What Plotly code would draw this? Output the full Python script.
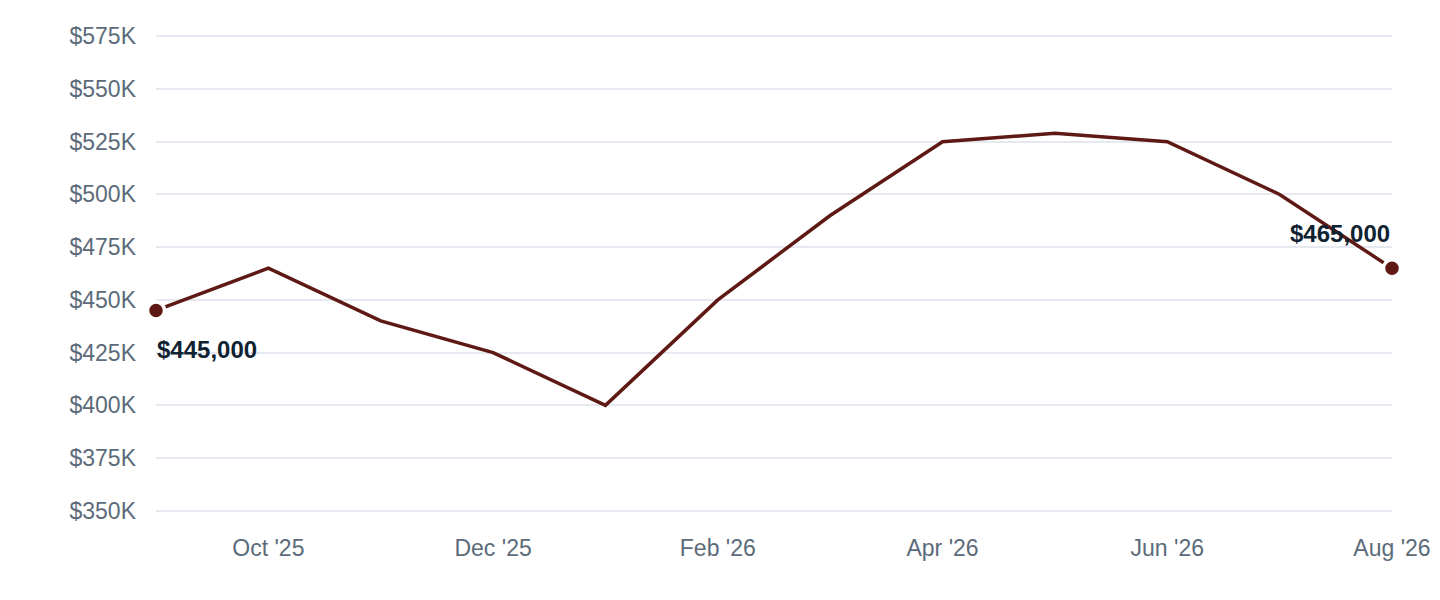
import plotly.graph_objects as go

months = ["Sep '25", "Oct '25", "Nov '25", "Dec '25", "Jan '26", "Feb '26",
          "Mar '26", "Apr '26", "May '26", "Jun '26", "Jul '26", "Aug '26"]
prices = [445000, 465000, 440000, 425000, 400000, 450000,
          490000, 525000, 529000, 525000, 500000, 465000]
tick_months = ["Oct '25", "Dec '25", "Feb '26", "Apr '26", "Jun '26", "Aug '26"]
y_ticks = [350000, 375000, 400000, 425000, 450000, 475000, 500000, 525000, 550000, 575000]
y_tick_text = ["$350K", "$375K", "$400K", "$425K", "$450K", "$475K", "$500K", "$525K", "$550K", "$575K"]

LINE = "#5e1914"
FONT = "Liberation Sans, Arial, Helvetica, sans-serif"

fig = go.Figure()
fig.add_trace(go.Scatter(
    x=months, y=prices, mode="lines",
    line=dict(color=LINE, width=3.5),
    hoverinfo="skip", showlegend=False,
))
fig.add_trace(go.Scatter(
    x=[months[0], months[-1]], y=[prices[0], prices[-1]], mode="markers",
    marker=dict(color=LINE, size=17, line=dict(color="white", width=3.5)),
    cliponaxis=False, showlegend=False, hoverinfo="skip",
))

fig.add_annotation(x=months[0], y=prices[0], text="<b>$445,000</b>", showarrow=False,
                   xanchor="left", yanchor="middle", yshift=-39, xshift=-1,
                   font=dict(family=FONT, size=24, color="#0f2231"))
fig.add_annotation(x=months[-1], y=prices[-1], text="<b>$465,000</b>", showarrow=False,
                   xanchor="right", yanchor="middle", yshift=35, xshift=0,
                   font=dict(family=FONT, size=24, color="#0f2231"))

fig.update_layout(
    width=1432, height=592,
    margin=dict(l=148, r=48, t=27, b=88),
    paper_bgcolor="white", plot_bgcolor="white",
    font=dict(family=FONT, size=23, color="#5b6b7a"),
    xaxis=dict(
        type="category", range=[0, len(months) - 1], automargin=False,
        tickmode="array", tickvals=tick_months, ticktext=tick_months,
        showgrid=False, zeroline=False, showline=False, ticks="",
        ticklabelstandoff=20,
    ),
    yaxis=dict(
        range=[349400, 575600], automargin=False,
        tickmode="array", tickvals=y_ticks, ticktext=y_tick_text,
        showgrid=True, gridcolor="#e6e9ef", gridwidth=1.5, zeroline=False, showline=False,
        ticks="", ticklabelstandoff=19,
    ),
)

fig.write_html("out.html")
